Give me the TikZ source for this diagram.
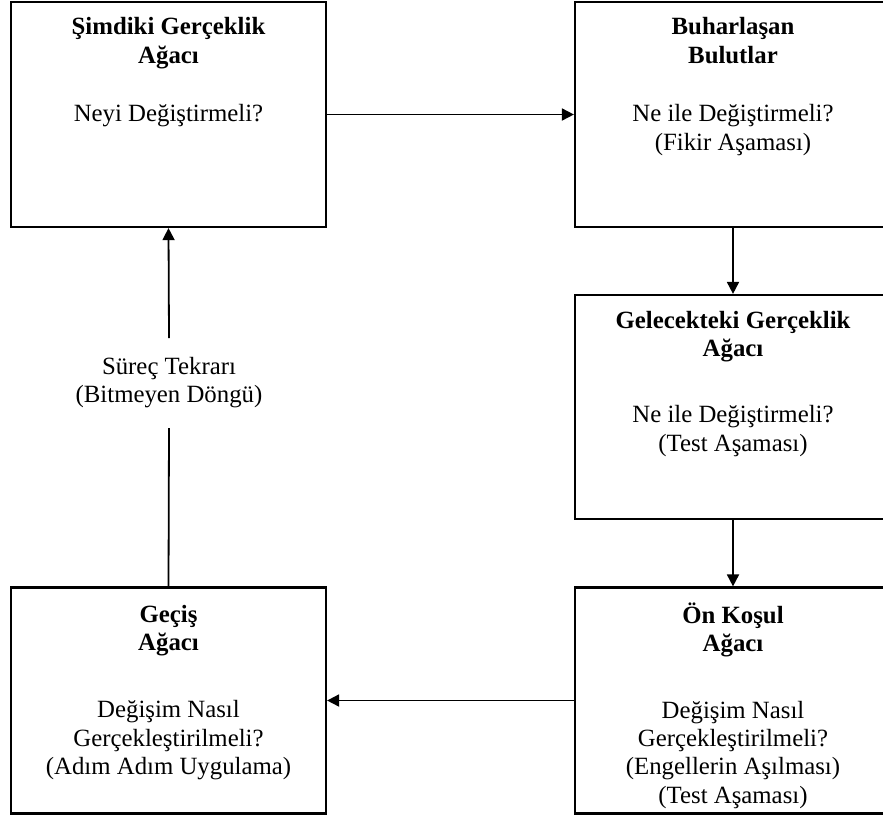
\documentclass[tikz,border=0pt]{standalone}
\usepackage{fontspec}
\setmainfont{Liberation Serif}
\usetikzlibrary{arrows.meta}

\begin{document}
\begin{tikzpicture}[x=1pt,y=-1pt,
  box/.style={draw, line width=2.2pt, minimum width=315pt, minimum height=225pt, inner sep=0pt},
  title/.style={anchor=north, align=center, inner sep=0pt, font=\fontsize{24.8}{28.3}\selectfont\bfseries},
  body/.style={anchor=north, align=center, inner sep=0pt, font=\fontsize{24.8}{28.3}\selectfont},
  conn/.style={line width=1.8pt},
  arr/.style={conn, -{Triangle[length=12pt,width=12pt]}}]
\clip (0,0) rectangle (883,815);
\fill[white] (0,0) rectangle (883,815);

% boxes
\node[box] (now)  at (168.5,114.5) {};
\node[box, minimum width=316pt] (clouds) at (733,114.5) {};
\node[box, minimum width=316pt, minimum height=224pt] (future) at (733,407) {};
\node[box, minimum width=316pt, minimum height=226pt] (prereq) at (733,700.5) {};
\node[box, minimum height=226pt] (trans) at (168.5,700.5) {};

% box texts
\node[title] (nowT) at (168.5,14.7) {\strut Şimdiki Gerçeklik\\Ağacı};
\node[body]  (nowB) at (168.5,101.2) {\strut Neyi Değiştirmeli?};

\node[title] (cloudsT) at (733,14.7) {\strut Buharlaşan\\Bulutlar};
\node[body]  (cloudsB) at (733,101.7) {\strut Ne ile Değiştirmeli?\\(Fikir Aşaması)};

\node[title] (futureT) at (733,308.2) {\strut Gelecekteki Gerçeklik\\Ağacı};
\node[body]  (futureB) at (733,402.7) {\strut Ne ile Değiştirmeli?\\(Test Aşaması)};

\node[title] (prereqT) at (733,602.2) {\strut Ön Koşul\\Ağacı};
\node[body]  (prereqB) at (733,698.2) {\strut Değişim Nasıl\\Gerçekleştirilmeli?\\(Engellerin Aşılması)\\(Test Aşaması)};

\node[title] (transT) at (168.5,602.2) {\strut Geçiş\\Ağacı};
\node[body]  (transB) at (168.5,697.7) {\strut Değişim Nasıl\\Gerçekleştirilmeli?\\(Adım Adım Uygulama)};

% loop label on the return connector
\node[align=center, inner xsep=0pt, inner ysep=16.5pt,
      font=\fontsize{24.8}{28.3}\selectfont] (loop) at (169,383)
      {\strut Süreç Tekrarı\\(Bitmeyen Döngü)\strut};

% connectors
\draw[arr] (now.east) -- (clouds.west);
\draw[arr] (clouds.south) -- (future.north);
\draw[arr] (future.south) -- (prereq.north);
\draw[arr] (prereq.west) -- (trans.east);
\draw[conn] (trans.north) -- (loop.south);
\draw[arr] (loop.north) -- (now.south);
\end{tikzpicture}
\end{document}
